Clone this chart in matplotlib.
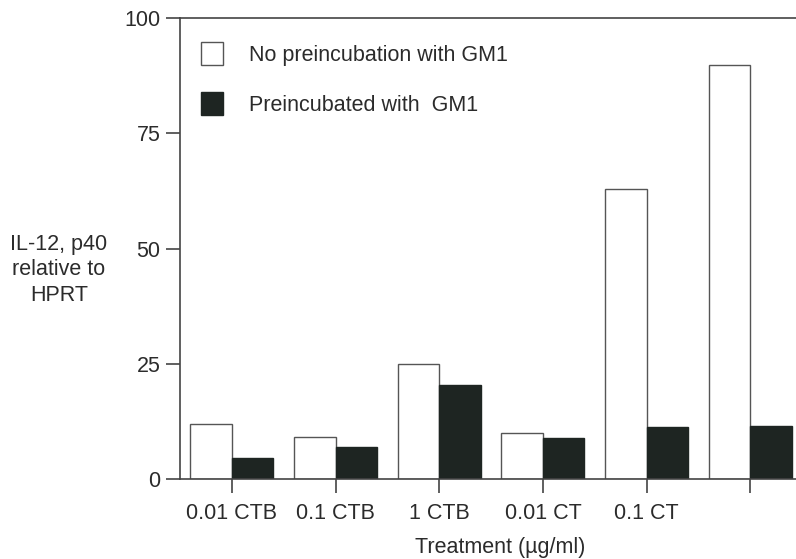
import numpy as np
import matplotlib
matplotlib.use("Agg")
import matplotlib.pyplot as plt
from matplotlib.patches import Patch

plt.rcParams['font.family'] = ['Liberation Sans', 'DejaVu Sans']

# IL-12 p40 mRNA relative to HPRT, per treatment
treatments = ["0.01 CTB", "0.1 CTB", "1 CTB", "0.01 CT", "0.1 CT", ""]
no_gm1 = [12, 9.2, 25, 9.9, 63, 89.7]
with_gm1 = [4.6, 6.9, 20.5, 8.9, 11.3, 11.6]

txt = '#2b2b2b'
dark = '#1e2522'
fs = 15.5

fig = plt.figure(figsize=(7.96, 5.59), dpi=100)
ax = fig.add_axes([0.2261, 0.1431, 0.7739, 0.8247])

x = np.arange(len(treatments))
w = 0.4
ax.bar(x - w/2, no_gm1, w, color='white', edgecolor='#555555', linewidth=1.0)
ax.bar(x + w/2, with_gm1, w, color=dark, edgecolor=dark, linewidth=1.0)

ax.set_xlim(-0.5, 5.44)
ax.set_ylim(0, 100)
ax.set_yticks([0, 25, 50, 75, 100])
ax.set_xticks(x)
ax.set_xticklabels(treatments)

ax.spines['right'].set_visible(False)
for s in ['left', 'bottom', 'top']:
    ax.spines[s].set_color('#444444')
    ax.spines[s].set_linewidth(1.2)

ax.tick_params(axis='both', colors='#444444', labelcolor=txt, labelsize=fs,
               length=10, width=1.2, direction='out')
ax.tick_params(axis='y', pad=4)
ax.tick_params(axis='x', pad=7)

ax.set_xlabel("Treatment (\u00b5g/ml)", fontsize=fs, color=txt)
ax.xaxis.set_label_coords(0.52, -0.125)
fig.text(0.074, 0.517, "IL-12, p40\nrelative to\nHPRT", ha='center', va='center',
         fontsize=fs, color=txt, linespacing=1.3)

handles = [Patch(facecolor='white', edgecolor='#555555', linewidth=1.0),
           Patch(facecolor=dark, edgecolor=dark)]
ax.legend(handles, ["No preincubation with GM1", "Preincubated with  GM1"],
          loc='upper left', bbox_to_anchor=(0.003, 0.99), frameon=False,
          fontsize=fs, labelcolor=txt, handlelength=1.0, handleheight=1.3,
          handletextpad=1.2, labelspacing=1.2)

fig.savefig("out.png", dpi=100)
